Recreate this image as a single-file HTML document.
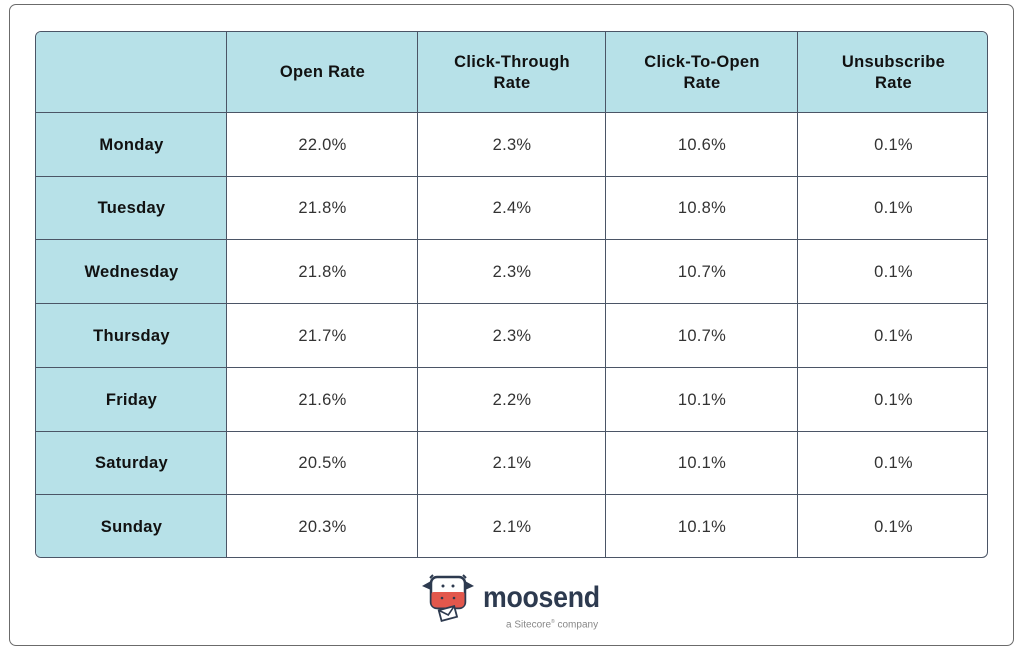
<!DOCTYPE html>
<html><head><meta charset="utf-8">
<style>
html,body{margin:0;padding:0;background:#fff;}
body{width:1024px;height:656px;position:relative;overflow:hidden;font-family:"Liberation Sans",sans-serif;}
.frame{position:absolute;left:9px;top:4px;width:1005px;height:642px;border:1.5px solid #6b6b6b;border-radius:7px;box-sizing:border-box;}
.tbl{position:absolute;left:35px;top:31px;width:953px;height:527px;border:1px solid #4b5566;border-radius:6px;box-sizing:border-box;overflow:hidden;background:#fff;}
.c{position:absolute;display:flex;align-items:center;justify-content:center;text-align:center;box-sizing:border-box;color:#222;}
.h{background:#b7e1e8;font-weight:bold;font-size:16.5px;line-height:21px;color:#111;letter-spacing:0.3px;}
.d{font-size:16.5px;color:#333;letter-spacing:0.3px;}
.vl{position:absolute;top:0;width:1px;height:100%;background:#4b5566;}
.hl{position:absolute;left:0;height:1px;width:100%;background:#4b5566;}
</style></head><body>
<div class="frame"></div>
<div class="tbl">
<div class="c h" style="left:0;top:0;width:191px;height:81px;"></div>
<div class="c h" style="left:191px;top:0;width:191px;height:81px;">Open Rate</div>
<div class="c h" style="left:382px;top:0;width:188px;height:81px;">Click-Through<br>Rate</div>
<div class="c h" style="left:570px;top:0;width:192px;height:81px;">Click-To-Open<br>Rate</div>
<div class="c h" style="left:762px;top:0;width:191px;height:81px;">Unsubscribe<br>Rate</div>
<div class="c h" style="left:0;top:81px;width:191px;height:64px;">Monday</div>
<div class="c h" style="left:0;top:145px;width:191px;height:63px;">Tuesday</div>
<div class="c h" style="left:0;top:208px;width:191px;height:64px;">Wednesday</div>
<div class="c h" style="left:0;top:272px;width:191px;height:64px;">Thursday</div>
<div class="c h" style="left:0;top:336px;width:191px;height:64px;">Friday</div>
<div class="c h" style="left:0;top:400px;width:191px;height:63px;">Saturday</div>
<div class="c h" style="left:0;top:463px;width:191px;height:64px;">Sunday</div>

<div class="c d" style="left:191px;top:81px;width:191px;height:64px;">22.0%</div>
<div class="c d" style="left:382px;top:81px;width:188px;height:64px;">2.3%</div>
<div class="c d" style="left:570px;top:81px;width:192px;height:64px;">10.6%</div>
<div class="c d" style="left:762px;top:81px;width:191px;height:64px;">0.1%</div>

<div class="c d" style="left:191px;top:145px;width:191px;height:63px;">21.8%</div>
<div class="c d" style="left:382px;top:145px;width:188px;height:63px;">2.4%</div>
<div class="c d" style="left:570px;top:145px;width:192px;height:63px;">10.8%</div>
<div class="c d" style="left:762px;top:145px;width:191px;height:63px;">0.1%</div>

<div class="c d" style="left:191px;top:208px;width:191px;height:64px;">21.8%</div>
<div class="c d" style="left:382px;top:208px;width:188px;height:64px;">2.3%</div>
<div class="c d" style="left:570px;top:208px;width:192px;height:64px;">10.7%</div>
<div class="c d" style="left:762px;top:208px;width:191px;height:64px;">0.1%</div>

<div class="c d" style="left:191px;top:272px;width:191px;height:64px;">21.7%</div>
<div class="c d" style="left:382px;top:272px;width:188px;height:64px;">2.3%</div>
<div class="c d" style="left:570px;top:272px;width:192px;height:64px;">10.7%</div>
<div class="c d" style="left:762px;top:272px;width:191px;height:64px;">0.1%</div>

<div class="c d" style="left:191px;top:336px;width:191px;height:64px;">21.6%</div>
<div class="c d" style="left:382px;top:336px;width:188px;height:64px;">2.2%</div>
<div class="c d" style="left:570px;top:336px;width:192px;height:64px;">10.1%</div>
<div class="c d" style="left:762px;top:336px;width:191px;height:64px;">0.1%</div>

<div class="c d" style="left:191px;top:400px;width:191px;height:63px;">20.5%</div>
<div class="c d" style="left:382px;top:400px;width:188px;height:63px;">2.1%</div>
<div class="c d" style="left:570px;top:400px;width:192px;height:63px;">10.1%</div>
<div class="c d" style="left:762px;top:400px;width:191px;height:63px;">0.1%</div>

<div class="c d" style="left:191px;top:463px;width:191px;height:64px;">20.3%</div>
<div class="c d" style="left:382px;top:463px;width:188px;height:64px;">2.1%</div>
<div class="c d" style="left:570px;top:463px;width:192px;height:64px;">10.1%</div>
<div class="c d" style="left:762px;top:463px;width:191px;height:64px;">0.1%</div>

<div class="vl" style="left:190px;"></div>
<div class="vl" style="left:381px;"></div>
<div class="vl" style="left:569px;"></div>
<div class="vl" style="left:761px;"></div>
<div class="hl" style="top:80px;"></div>
<div class="hl" style="top:144px;"></div>
<div class="hl" style="top:207px;"></div>
<div class="hl" style="top:271px;"></div>
<div class="hl" style="top:335px;"></div>
<div class="hl" style="top:399px;"></div>
<div class="hl" style="top:462px;"></div>
</div>
<svg style="position:absolute;left:418px;top:572px;" width="60" height="55" viewBox="0 0 60 55">
  <path d="M4 14 L13 9 L13 18 Z" fill="#2d3a4f"/>
  <path d="M56 14 L47 9 L47 18 Z" fill="#2d3a4f"/>
  <path d="M12 6 L15 3 M48 6 L45 3" stroke="#2d3a4f" stroke-width="2"/>
  <rect x="13" y="5" width="34" height="31" rx="6" fill="#fff" stroke="#2d3a4f" stroke-width="2.5"/>
  <path d="M13.5 22 Q13.5 20 16 20 L44 20 Q46.5 20 46.5 22 L46.5 30 Q46.5 35.5 41 35.5 L19 35.5 Q13.5 35.5 13.5 30 Z" fill="#e2574c"/>
  <circle cx="25" cy="14" r="1.5" fill="#2d3a4f"/>
  <circle cx="35" cy="14" r="1.5" fill="#2d3a4f"/>
  <circle cx="24" cy="26" r="1.3" fill="#2d3a4f"/>
  <circle cx="36" cy="26" r="1.3" fill="#2d3a4f"/>
  <g transform="rotate(-15 30 42)">
    <rect x="22" y="36" width="16" height="11" fill="#fff" stroke="#2d3a4f" stroke-width="1.8"/>
    <path d="M22 36 L30 43 L38 36" fill="none" stroke="#2d3a4f" stroke-width="1.6"/>
  </g>
</svg>
<div style="position:absolute;left:483px;top:578px;font-size:30px;font-weight:bold;color:#2d3a4f;letter-spacing:-0.3px;line-height:40px;transform:scaleX(0.89);transform-origin:0 0;white-space:nowrap;">moosend</div>
<div style="position:absolute;left:506px;top:616px;font-size:10px;color:#888;line-height:12px;">a Sitecore<sup style="font-size:5px;">®</sup> company</div>
</body></html>
